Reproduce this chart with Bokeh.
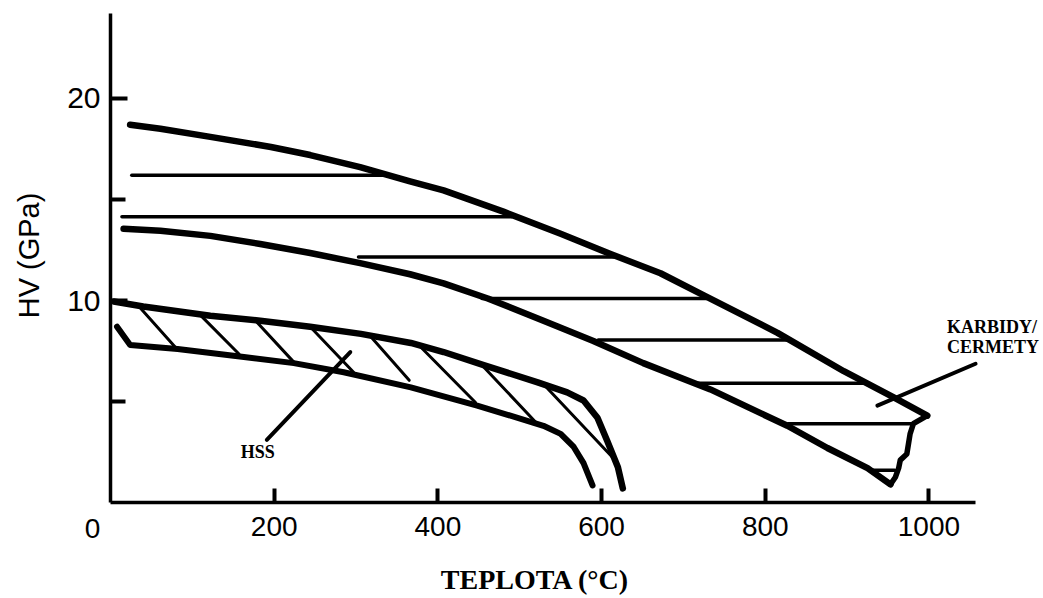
import math
from bokeh.plotting import figure
from bokeh.models import FixedTicker, Label, Range1d
from bokeh.embed import file_html
from bokeh.resources import INLINE

# ---- data ----
# Carbides / cermets band
carb_top_x = [24, 61, 122, 196, 244, 305, 366, 407, 480, 550, 611, 672, 725, 815, 896, 957, 998]
carb_top_y = [18.7, 18.5, 18.1, 17.6, 17.2, 16.6, 15.9, 15.45, 14.4, 13.3, 12.3, 11.35, 10.25, 8.4, 6.5, 5.2, 4.3]
carb_edge_x = [998, 981, 977, 975, 973, 965, 963, 959, 953]
carb_edge_y = [4.3, 3.9, 3.4, 2.9, 2.4, 2.1, 1.7, 1.25, 0.9]
carb_low_x = [16, 61, 122, 183, 244, 305, 366, 407, 461, 529, 590, 651, 733, 827, 876, 925, 953]
carb_low_y = [13.55, 13.45, 13.2, 12.8, 12.35, 11.85, 11.3, 10.85, 10.1, 9.0, 8.0, 6.9, 5.6, 3.8, 2.7, 1.7, 0.9]
carb_hatch_y = [16.2, 14.15, 12.15, 10.1, 8.05, 5.9, 3.9, 1.6]
carb_hatch_x0 = [26, 14, 303, 454, 596, 718, 828, 929]
carb_hatch_x1 = [342, 490, 615, 728, 828, 922, 981, 958]

# HSS band
hss_top_x = [4, 40, 122, 183, 244, 306, 367, 407, 456, 522, 558, 578, 595, 607, 620, 626]
hss_top_y = [9.95, 9.7, 9.25, 9.0, 8.7, 8.35, 7.9, 7.45, 6.8, 5.95, 5.45, 5.05, 4.2, 3.05, 1.75, 0.7]
hss_low_x = [8, 24, 82, 163, 224, 285, 367, 448, 529, 550, 566, 578, 589]
hss_low_y = [8.7, 7.8, 7.6, 7.2, 6.9, 6.45, 5.7, 4.8, 3.8, 3.4, 2.75, 1.95, 0.85]
hss_d_x0 = [37, 108, 175, 244, 316, 379, 454, 528]
hss_d_y0 = [9.6, 9.35, 9.1, 8.7, 8.3, 7.7, 6.8, 5.9]
hss_d_x1 = [79, 157, 224, 297, 365, 446, 519, 613]
hss_d_y1 = [7.7, 7.35, 6.95, 6.45, 6.05, 4.95, 4.0, 2.25]

# leader lines for the labels
hss_leader_x = [191, 293]
hss_leader_y = [3.1, 7.45]
carb_leader_x = [937, 1057]
carb_leader_y = [4.8, 6.87]

x_ticks = [200, 400, 600, 800, 1000]
x_axis_bounds = (0, 1057)
y_ticks = [10, 20]
y_minor = [5, 15]
y_axis_bounds = (0, 24.2)

SANS = "Liberation Sans"
SERIF = "Liberation Serif"

p = figure(width=1043, height=598, output_backend="svg", toolbar_location=None,
           x_range=Range1d(-134.4, 1140), y_range=Range1d(-4.75, 24.85),
           min_border=0)
p.grid.visible = False
p.outline_line_color = None
p.background_fill_color = "white"
p.border_fill_color = "white"

# axes, drawn at x=0 / y=0 inside the frame
for ax in (p.xaxis, p.yaxis):
    ax.fixed_location = 0
    ax.axis_line_width = 3.5
    ax.axis_line_color = "black"
    ax.major_tick_line_width = 4
    ax.minor_tick_line_width = 4
    ax.major_tick_line_color = "black"
    ax.minor_tick_line_color = "black"
    ax.major_tick_out = 0
    ax.minor_tick_out = 0
    ax.major_label_text_font = SANS
    ax.major_label_text_color = "black"

p.xaxis.bounds = x_axis_bounds
p.xaxis.ticker = FixedTicker(ticks=x_ticks, minor_ticks=[])
p.xaxis.major_tick_in = 14
p.xaxis.minor_tick_in = 0
p.xaxis.major_label_text_font_size = "28px"
p.xaxis.major_label_standoff = 14

p.yaxis.bounds = y_axis_bounds
p.yaxis.ticker = FixedTicker(ticks=y_ticks, minor_ticks=y_minor)
p.yaxis.major_tick_in = 17
p.yaxis.minor_tick_in = 15
p.yaxis.major_label_text_font_size = "30px"
p.yaxis.major_label_standoff = 10

# carbide band
p.line(carb_top_x, carb_top_y, line_width=6.5, color="black", line_cap="round", line_join="round")
p.line(carb_edge_x, carb_edge_y, line_width=5.5, color="black", line_cap="round", line_join="round")
p.line(carb_low_x, carb_low_y, line_width=6.5, color="black", line_cap="round", line_join="round")
p.multi_line([[a, b] for a, b in zip(carb_hatch_x0, carb_hatch_x1)],
             [[y, y] for y in carb_hatch_y], line_width=3.5, color="black", line_cap="round")

# HSS band
p.line(hss_top_x, hss_top_y, line_width=6.5, color="black", line_cap="round", line_join="round")
p.line(hss_low_x, hss_low_y, line_width=6, color="black", line_cap="round", line_join="round")
p.multi_line([[a, b] for a, b in zip(hss_d_x0, hss_d_x1)],
             [[a, b] for a, b in zip(hss_d_y0, hss_d_y1)], line_width=3, color="black", line_cap="round")

# leaders
p.line(hss_leader_x, hss_leader_y, line_width=4, color="black", line_cap="round")
p.line(carb_leader_x, carb_leader_y, line_width=4, color="black", line_cap="round")

# texts
def lab(x, y, text, font, size, style="normal", align="center", angle=0.0):
    p.add_layout(Label(x=x, y=y, text=text, text_font=font, text_font_style=style,
                       text_font_size=size, text_align=align, text_baseline="middle",
                       text_color="black", angle=angle))

lab(180, 2.52, "HSS", SERIF, "18px", "bold")
lab(1022, 8.71, "KARBIDY/", SERIF, "18px", "bold", "left")
lab(1022, 7.69, "CERMETY", SERIF, "18px", "bold", "left")
lab(-22, -1.3, "0", SANS, "28px")
lab(519, -3.82, "TEPLOTA (°C)", SERIF, "28px", "bold")
lab(-100, 12.23, "HV (GPa)", SANS, "29px", angle=math.pi / 2)

open("out.html", "w").write(file_html(p, INLINE))
